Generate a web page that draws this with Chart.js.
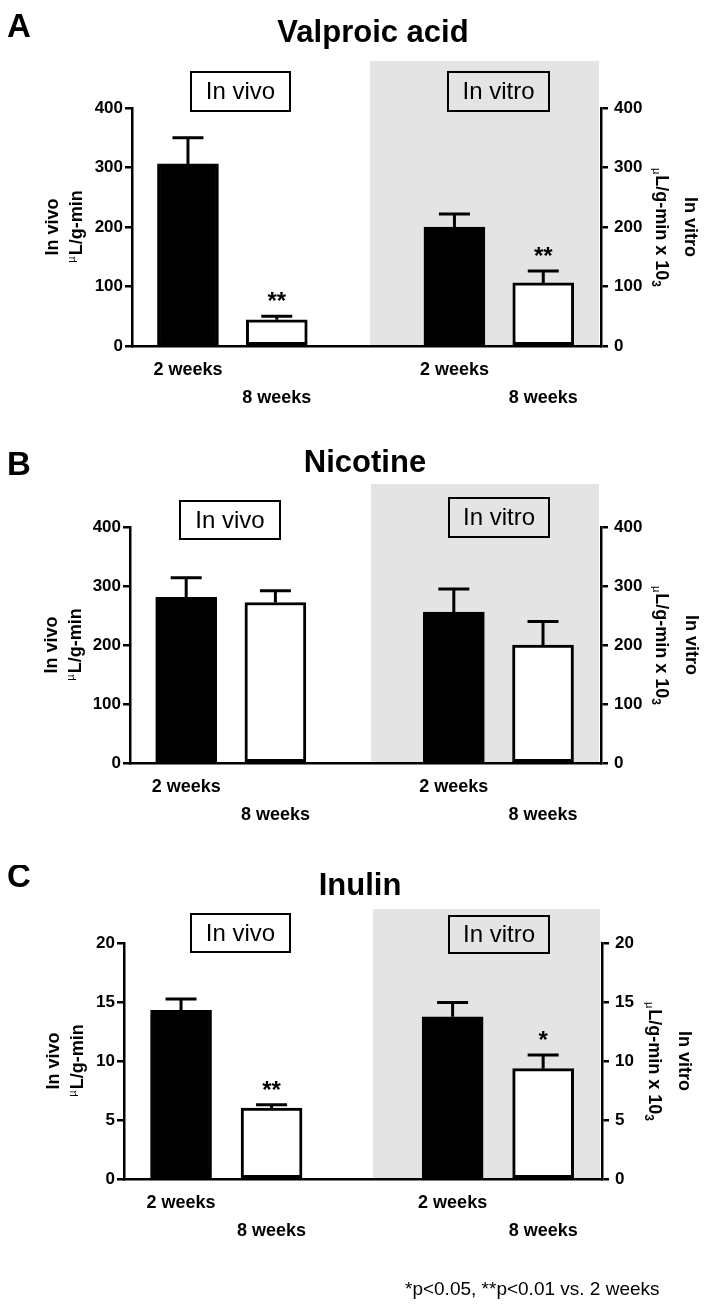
<!DOCTYPE html>
<html>
<head>
<meta charset="utf-8">
<script src="https://cdn.jsdelivr.net/npm/chart.js@4.4.1/dist/chart.umd.min.js"></script>
<style>
  html, body { margin: 0; padding: 0; background: #fff; }
  #page { position: relative; width: 706px; height: 1307px; overflow: hidden; background: #fff; }
  #page canvas { position: absolute; left: 0; }
</style>
</head>
<body>
<div id="page"></div>
<script>
// Clearance values (µL/g-min)
const groups = ['In vivo', 'In vitro'];
const weeks = ['2 weeks', '8 weeks'];

const valproicVivo = [306, 44];
const valproicVivoErr = [44, 6];
const valproicVitro = [200, 106];
const valproicVitroErr = [22, 20];
const valproicSig = ['', '**', '', '**'];

const nicotineVivo = [281, 272];
const nicotineVivoErr = [33, 20];
const nicotineVitro = [256, 200];
const nicotineVitroErr = [39, 40];
const nicotineSig = ['', '', '', ''];

const inulinVivo = [14.3, 6.0];
const inulinVivoErr = [0.95, 0.3];
const inulinVitro = [13.75, 9.35];
const inulinVitroErr = [1.2, 1.15];
const inulinSig = ['', '**', '', '*'];

const ticks400 = [0, 100, 200, 300, 400];
const ticks20 = [0, 5, 10, 15, 20];
const footnote = '*p<0.05, **p<0.01 vs. 2 weeks';

const FONT = "'Liberation Sans', Arial, Helvetica, sans-serif";
const SHADE = '#e4e4e4';

// layout of each panel (canvas-local pixels)
const panels = [
    { letter: 'A', title: 'Valproic acid', vivo: valproicVivo, vivoErr: valproicVivoErr,
      vitro: valproicVitro, vitroErr: valproicVitroErr, sig: valproicSig, yTicks: ticks400,
      top: 0, height: 430, plotTop: 108, plotBottom: 346, left: 132, right: 601,
      letterY: 37, titleX: 373, titleY: 42, shadeTop: 61, shadeLeft: 370,
      vivoBox: [191, 72, 99, 39], vitroBox: [448, 72, 101, 39],
      leftLab: [53, 77], rightLab: [690, 661] },
    { letter: 'B', title: 'Nicotine', vivo: nicotineVivo, vivoErr: nicotineVivoErr,
      vitro: nicotineVitro, vitroErr: nicotineVitroErr, sig: nicotineSig, yTicks: ticks400,
      top: 430, height: 435, plotTop: 97, plotBottom: 333, left: 130, right: 601,
      letterY: 45, titleX: 365, titleY: 42, shadeTop: 54, shadeLeft: 371,
      vivoBox: [180, 71, 100, 38], vitroBox: [449, 68, 100, 39],
      leftLab: [52, 76], rightLab: [691, 661] },
    { letter: 'C', title: 'Inulin', vivo: inulinVivo, vivoErr: inulinVivoErr,
      vitro: inulinVitro, vitroErr: inulinVitroErr, sig: inulinSig, yTicks: ticks20,
      top: 865, height: 442, plotTop: 78, plotBottom: 314, left: 124, right: 602,
      letterY: 22, titleX: 360, titleY: 30, shadeTop: 44, shadeLeft: 373,
      vivoBox: [191, 49, 99, 38], vitroBox: [449, 51, 100, 37],
      leftLab: [54, 78], rightLab: [684, 654], footnote: true }
];

function drawBox(ctx, box, text, fill) {
    const [x, y, w, h] = box;
    ctx.fillStyle = fill;
    ctx.fillRect(x, y, w, h);
    ctx.strokeStyle = '#000';
    ctx.lineWidth = 2;
    ctx.strokeRect(x, y, w, h);
    ctx.fillStyle = '#000';
    ctx.font = '24px ' + FONT;
    ctx.textAlign = 'center';
    ctx.textBaseline = 'middle';
    ctx.fillText(text, x + w / 2, y + h / 2 + 1);
}

// side -1: left axis (reads upward), side 1: right axis (reads downward)
function drawAxisTitle(ctx, cx1, cx2, cy, side, text) {
    ctx.save();
    ctx.fillStyle = '#000';
    ctx.textBaseline = 'middle';
    ctx.textAlign = 'center';
    ctx.translate(cx1, cy);
    ctx.rotate(side * Math.PI / 2);
    ctx.font = 'bold 18px ' + FONT;
    ctx.fillText(text, 0, 0);
    ctx.restore();

    ctx.save();
    ctx.fillStyle = '#000';
    ctx.textBaseline = 'middle';
    ctx.textAlign = 'left';
    ctx.translate(cx2, cy);
    ctx.rotate(side * Math.PI / 2);
    const main = side > 0 ? 'L/g-min x 10' : 'L/g-min';
    const big = 'bold 18px ' + FONT;
    const small = '11px ' + FONT;
    const sup = 'bold 12px ' + FONT;
    ctx.font = big; const wMain = ctx.measureText(main).width;
    ctx.font = small; const wMu = ctx.measureText('\u00b5').width;
    ctx.font = sup; const w3 = side > 0 ? ctx.measureText('3').width : 0;
    const shift = side * 5; // small glyphs sit toward the left of the page
    let x = -(wMu + wMain + w3) / 2;
    ctx.font = small; ctx.fillText('\u00b5', x, shift); x += wMu + 1;
    ctx.font = big; ctx.fillText(main, x, 0); x += wMain;
    if (side > 0) { ctx.font = sup; ctx.fillText('3', x, shift + 1); }
    ctx.restore();
}

const panelDecor = {
    id: 'panelDecor',
    beforeDraw(chart) {
        const p = chart.options.plugins.panelDecor.panel;
        const ctx = chart.ctx;
        const area = chart.chartArea;
        ctx.save();
        // shaded in vitro half
        ctx.fillStyle = SHADE;
        ctx.fillRect(p.shadeLeft, p.shadeTop, area.right - 2 - p.shadeLeft, area.bottom - p.shadeTop);
        // panel letter and title
        ctx.fillStyle = '#000';
        ctx.textBaseline = 'alphabetic';
        ctx.textAlign = 'left';
        ctx.font = 'bold 33px ' + FONT;
        ctx.fillText(p.letter, 7, p.letterY);
        ctx.textAlign = 'center';
        ctx.font = 'bold 31px ' + FONT;
        ctx.fillText(p.title, p.titleX, p.titleY);
        drawBox(ctx, p.vivoBox, groups[0], '#fff');
        drawBox(ctx, p.vitroBox, groups[1], SHADE);
        const cy = (area.top + area.bottom) / 2;
        drawAxisTitle(ctx, p.leftLab[0], p.leftLab[1], cy, -1, groups[0]);
        drawAxisTitle(ctx, p.rightLab[0], p.rightLab[1], cy, 1, groups[1]);
        if (p.footnote) {
            ctx.fillStyle = '#000';
            ctx.textAlign = 'left';
            ctx.textBaseline = 'alphabetic';
            ctx.font = '19px ' + FONT;
            ctx.fillText(footnote, 405, 430);
        }
        ctx.restore();
    },
    afterDatasetsDraw(chart) {
        const p = chart.options.plugins.panelDecor.panel;
        const ctx = chart.ctx;
        const yScale = chart.scales.y;
        const meta = chart.getDatasetMeta(0);
        const vals = p.vivo.concat(p.vitro);
        const errs = p.vivoErr.concat(p.vitroErr);
        ctx.save();
        ctx.strokeStyle = '#000';
        ctx.lineWidth = 3;
        meta.data.forEach((bar, i) => {
            const top = yScale.getPixelForValue(vals[i] + errs[i]);
            ctx.beginPath();
            ctx.moveTo(bar.x, bar.y);
            ctx.lineTo(bar.x, top);
            ctx.moveTo(bar.x - 15.5, top);
            ctx.lineTo(bar.x + 15.5, top);
            ctx.stroke();
            if (p.sig[i]) {
                ctx.fillStyle = '#000';
                ctx.font = 'bold 24px ' + FONT;
                ctx.textAlign = 'center';
                ctx.textBaseline = 'alphabetic';
                ctx.fillText(p.sig[i], bar.x, top - 7);
            }
        });
        ctx.restore();
    }
};

function makePanel(p) {
    const canvas = document.createElement('canvas');
    canvas.width = 706;
    canvas.height = p.height;
    canvas.style.top = p.top + 'px';
    canvas.style.width = '706px';
    canvas.style.height = p.height + 'px';
    document.getElementById('page').appendChild(canvas);

    const points = [];
    const colors = [];
    groups.forEach((g, gi) => {
        const vals = gi === 0 ? p.vivo : p.vitro;
        weeks.forEach((w, wi) => {
            points.push({ x: gi * 3 + wi + 1, y: vals[wi] });
            colors.push(wi === 0 ? '#000' : '#fff');
        });
    });
    const yMax = p.yTicks[p.yTicks.length - 1];
    const tickFont = { family: FONT, size: 17, weight: 'bold' };

    const yAxis = (pos, pad, width) => ({
        position: pos,
        min: p.yTicks[0],
        max: yMax,
        afterBuildTicks: axis => { axis.ticks = p.yTicks.map(v => ({ value: v })); },
        afterFit: axis => { axis.width = width; },
        ticks: { color: '#000', font: tickFont, padding: pad },
        grid: { display: true, drawOnChartArea: false, drawTicks: true, tickLength: 7, color: '#000', lineWidth: 2.5 },
        border: { display: true, color: '#000', width: 2.5 }
    });

    return new Chart(canvas.getContext('2d'), {
        type: 'bar',
        data: {
            datasets: [{
                data: points,
                backgroundColor: colors,
                borderColor: '#000',
                borderWidth: 3,
                borderSkipped: false,
                barThickness: 61,
                yAxisID: 'y'
            }]
        },
        options: {
            responsive: false,
            animation: false,
            devicePixelRatio: 1,
            layout: { padding: { top: p.plotTop, left: 0, right: 0, bottom: 0 } },
            plugins: {
                legend: { display: false },
                tooltip: { enabled: false },
                panelDecor: { panel: p }
            },
            scales: {
                x: {
                    type: 'linear',
                    min: 0.37,
                    max: 5.65,
                    offset: false,
                    afterBuildTicks: axis => { axis.ticks = points.map(pt => ({ value: pt.x })); },
                    afterFit: axis => { axis.height = p.height - p.plotBottom; },
                    ticks: {
                        color: '#000',
                        font: { family: FONT, size: 18, weight: 'bold', lineHeight: 1.55 },
                        padding: 10,
                        maxRotation: 0,
                        autoSkip: false,
                        callback: v => {
                            const wi = (v - 1) % 3;
                            return wi === 0 ? weeks[0] : ['', weeks[1]];
                        }
                    },
                    grid: { display: false, drawTicks: false, offset: false },
                    border: { display: true, color: '#000', width: 2.5 }
                },
                y: yAxis('left', 2, p.left),
                y2: yAxis('right', 6, 706 - p.right)
            }
        },
        plugins: [panelDecor]
    });
}

panels.forEach(makePanel);
</script>
</body>
</html>
